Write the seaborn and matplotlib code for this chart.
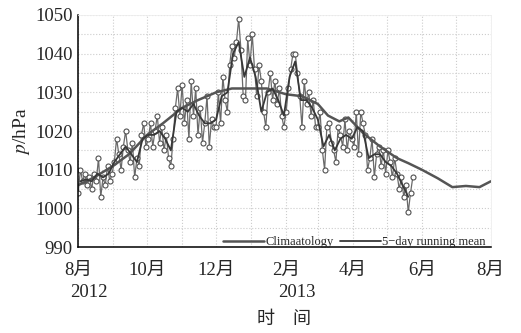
import pandas as pd
import numpy as np
import matplotlib
matplotlib.use("Agg")
import matplotlib.pyplot as plt
import matplotlib.transforms as mtrans
import seaborn as sns

# observed surface pressure, every 2 days from 2012-08-01
obs_aug = [1004, 1010, 1007, 1009, 1006, 1008, 1005, 1009, 1007, 1013, 1003, 1008, 1006, 1011, 1007, 1009]
obs_sep = [1012, 1018, 1014, 1010, 1016, 1020, 1015, 1012, 1017, 1008, 1013, 1011, 1019, 1022, 1016]
obs_oct = [1018, 1022, 1016, 1020, 1024, 1017, 1021, 1015, 1019, 1013, 1011, 1018, 1026, 1031, 1024]
obs_nov = [1032, 1022, 1028, 1018, 1033, 1024, 1031, 1019, 1026, 1017, 1022, 1029, 1016, 1023, 1021]
obs_dec = [1021, 1030, 1022, 1034, 1028, 1025, 1037, 1042, 1039, 1043, 1049, 1041, 1029, 1028, 1044, 1037]
obs_jan = [1045, 1036, 1029, 1037, 1033, 1025, 1021, 1030, 1035, 1028, 1033, 1027, 1031, 1024, 1021]
obs_feb = [1025, 1031, 1036, 1040, 1040, 1035, 1029, 1021, 1033, 1027, 1030, 1024, 1028, 1021]
obs_mar = [1021, 1025, 1015, 1010, 1021, 1022, 1017, 1015, 1012, 1021, 1019, 1016, 1023, 1015, 1020, 1018]
obs_apr = [1016, 1025, 1014, 1025, 1022, 1019, 1010, 1013, 1018, 1008, 1014, 1016, 1011, 1015, 1009]
obs_may = [1015, 1012, 1008, 1013, 1009, 1005, 1008, 1003, 1006, 999, 1004, 1008]
obs = obs_aug + obs_sep + obs_oct + obs_nov + obs_dec + obs_jan + obs_feb + obs_mar + obs_apr + obs_may

# 5-day running mean, one value every 5 days from 2012-08-03
run_mean = [1007, 1007.5, 1007, 1009, 1008, 1009, 1012, 1014, 1016, 1014, 1012, 1018,
            1019, 1019, 1020, 1018, 1015, 1025, 1026, 1025, 1027, 1024, 1022, 1022,
            1023, 1029, 1030, 1040, 1043, 1034, 1039, 1034, 1025, 1030, 1031, 1028,
            1024, 1034, 1038, 1028, 1028, 1026, 1023, 1016, 1019, 1015, 1018, 1019,
            1018, 1021, 1020, 1013, 1014, 1014, 1012, 1011, 1009, 1006, 1003]

# climatology
clim_dates = ["2012-08-01", "2012-08-15", "2012-09-01", "2012-09-15", "2012-10-01", "2012-10-15",
              "2012-11-01", "2012-11-15", "2012-12-01", "2012-12-15", "2013-01-01", "2013-01-15",
              "2013-02-01", "2013-02-15", "2013-03-01", "2013-03-10", "2013-03-20", "2013-03-28",
              "2013-04-10", "2013-04-25", "2013-05-10", "2013-05-20", "2013-06-01", "2013-06-15",
              "2013-06-28", "2013-07-10", "2013-07-22", "2013-08-01"]
clim_vals = [1006, 1008, 1011, 1014, 1019, 1022, 1026, 1028, 1030, 1031, 1031, 1031,
             1029.5, 1029, 1027, 1024, 1022.5, 1023.5, 1019.5, 1016, 1013, 1011.7, 1010, 1007.8,
             1005.5, 1005.8, 1005.5, 1007]

month_ticks = ["2012-08-01", "2012-10-01", "2012-12-01", "2013-02-01", "2013-04-01", "2013-06-01", "2013-08-01"]
month_labels = ["8月", "10月", "12月", "2月", "4月", "6月", "8月"]
year_ticks = ["2012-08-01", "2013-02-01"]
year_labels = ["2012", "2013"]

df_obs = pd.DataFrame({"date": pd.date_range("2012-08-01", periods=len(obs), freq="2D"), "p": obs})
df_run = pd.DataFrame({"date": pd.date_range("2012-08-03", periods=len(run_mean), freq="5D"), "p": run_mean})
df_clim = pd.DataFrame({"date": pd.to_datetime(clim_dates), "p": clim_vals})

sns.set_style("white")
plt.rcParams["font.family"] = ["Liberation Serif", "Noto Sans CJK SC"]
plt.rcParams["mathtext.fontset"] = "stix"

fig = plt.figure(figsize=(5.21, 3.33), dpi=100)
ax = fig.add_axes([0.15, 0.258, 0.792, 0.697])

sns.lineplot(data=df_obs, x="date", y="p", ax=ax, color="#6a6a6a", lw=0.9,
             marker="o", markersize=3.6, markerfacecolor="white", markeredgecolor="#505050",
             markeredgewidth=0.8)
sns.lineplot(data=df_clim, x="date", y="p", ax=ax, color="#555555", lw=1.8, label="Climaatology")
sns.lineplot(data=df_run, x="date", y="p", ax=ax, color="#383838", lw=1.3, label="5\u2212day running mean")

ax.set_xlim(pd.Timestamp("2012-08-01"), pd.Timestamp("2013-08-01"))
ax.set_ylim(990, 1050)
ax.set_yticks(range(990, 1051, 10))
ax.set_yticks(range(990, 1051, 5), minor=True)

ax.set_xticks(pd.to_datetime(month_ticks))
ax.set_xticks(pd.date_range("2012-08-01", "2013-08-01", freq="MS"), minor=True)
ax.set_xticklabels(month_labels)
shift = mtrans.ScaledTranslation(3 / 100, 0, fig.dpi_scale_trans)
for lab in ax.get_xticklabels():
    lab.set_transform(lab.get_transform() + shift)

# year labels under the month labels
xtrans = mtrans.blended_transform_factory(ax.transData, ax.transAxes)
for d, t in zip(year_ticks, year_labels):
    ax.text(pd.Timestamp(d), -0.195, t, transform=xtrans + mtrans.ScaledTranslation(-8 / 100, 0, fig.dpi_scale_trans),
            ha="left", va="center", fontsize=13.5)

ax.tick_params(axis="both", which="major", direction="in", length=4, width=1, labelsize=13.5, pad=4)
ax.tick_params(axis="both", which="minor", direction="in", length=2.5, width=0.8)
ax.tick_params(axis="x", which="major", pad=11)

ax.grid(True, which="both", axis="both", color="#cccccc", ls=":", lw=0.8)

for s in ["top", "right"]:
    ax.spines[s].set_color("#eeeeee")
    ax.spines[s].set_linewidth(0.6)
for s in ["left", "bottom"]:
    ax.spines[s].set_color("black")
    ax.spines[s].set_linewidth(1.1)

ax.set_xlabel("时    间", fontsize=13, labelpad=23)
ax.set_ylabel("$p$/hPa", fontsize=14, labelpad=2)

ax.legend(loc="lower right", ncol=2, frameon=False, fontsize=9, handlelength=3.3,
          columnspacing=0.5, handletextpad=0.1, borderaxespad=0.0, bbox_to_anchor=(1.0, -0.025))

fig.savefig("out.png", dpi=100)
